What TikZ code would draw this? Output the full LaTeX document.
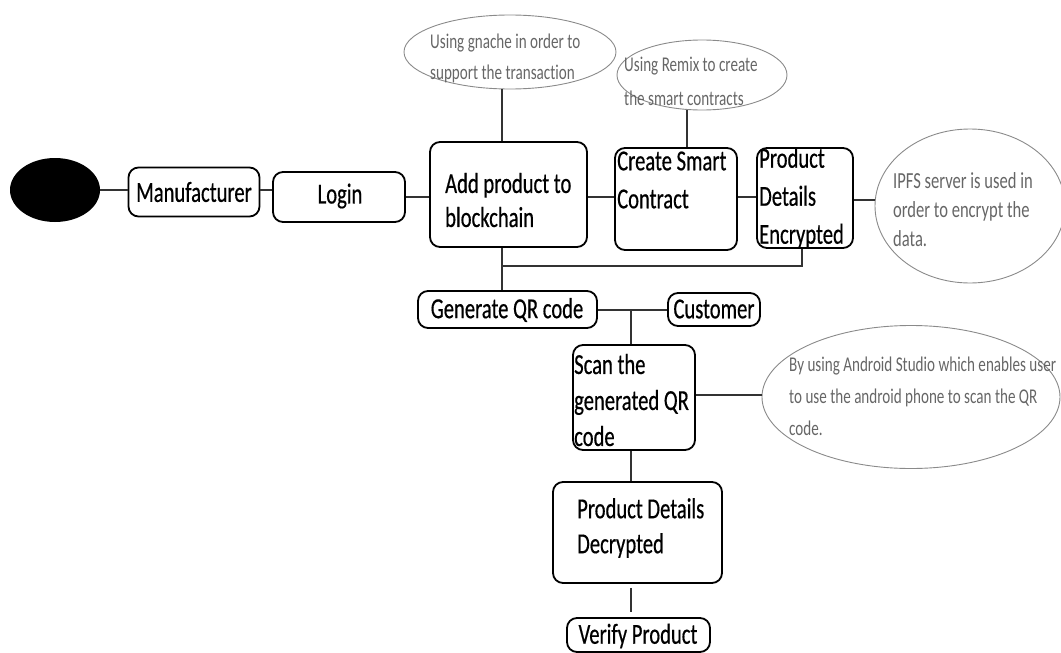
\documentclass[tikz,border=0pt]{standalone}
\usepackage{fontspec}
\newfontfamily\boxfont[FakeStretch=0.71,FakeBold=0.5,Ligatures=NoCommon]{Carlito}
\newfontfamily\notefont[FakeStretch=0.72,Ligatures=NoCommon]{Carlito}
\usetikzlibrary{shapes.geometric}
\definecolor{notegray}{HTML}{666666}
\definecolor{edgegray}{HTML}{8A8A8A}
\definecolor{linegray}{HTML}{333333}
\tikzset{
  box/.style={draw=black, line width=1.8pt, rounded corners=10pt, inner sep=0pt},
  boxtxt/.style={inner sep=0pt, align=left, text=black},
  note/.style={draw=edgegray, line width=0.9pt, ellipse, inner sep=0pt},
  notetxt/.style={inner sep=0pt, align=left, text=notegray},
  conn/.style={draw=linegray, line width=1.3pt},
}
\begin{document}
\begin{tikzpicture}[x=1pt,y=-1pt]
\useasboundingbox (0,0) rectangle (1061,653);
% start
\node[ellipse, fill=black, minimum width=90pt, minimum height=64pt, inner sep=0pt] (start) at (55,190) {};
% boxes
\node[box, minimum width=131pt, minimum height=49pt] (manu) at (194,192) {};
\node[box, minimum width=132pt, minimum height=50pt] (login) at (339,197) {};
\node[box, minimum width=157pt, minimum height=105pt] (add) at (508.5,194.5) {};
\node[box, minimum width=122pt, minimum height=102pt] (create) at (676,199) {};
\node[box, minimum width=96pt, minimum height=100pt] (pde) at (805,198) {};
\node[box, minimum width=179pt, minimum height=37pt] (gen) at (507.5,309.5) {};
\node[box, minimum width=92pt, minimum height=33pt] (cust) at (714,309.5) {};
\node[box, minimum width=122pt, minimum height=105pt] (scan) at (634,397.5) {};
\node[box, minimum width=169pt, minimum height=101pt] (pdd) at (637.5,532.5) {};
\node[box, minimum width=143pt, minimum height=34pt] (verify) at (638.5,635) {};
% notes
\node[note, minimum width=212pt, minimum height=74pt] (gnache) at (510,52) {};
\node[note, minimum width=170pt, minimum height=70pt] (remix) at (702,75) {};
\node[note, minimum width=190pt, minimum height=154pt] (ipfs) at (970,206) {};
\node[note, minimum width=298pt, minimum height=143pt] (android) at (911,397) {};
% texts
\begin{scope}[font={\boxfont\fontsize{29}{35}\selectfont}]
\node[boxtxt] (t-manu) at (194,192) {Manufacturer};
\node[boxtxt] (t-login) at (340,196) {Login};
\node[boxtxt, anchor=west, font={\boxfont\fontsize{29}{34}\selectfont}] (t-add) at (445,200) {Add product to\\blockchain};
\node[boxtxt, anchor=west, font={\boxfont\fontsize{29}{38}\selectfont}] (t-create) at (617,180) {Create Smart\\Contract};
\node[boxtxt, anchor=west, font={\boxfont\fontsize{29}{38}\selectfont}] (t-pde) at (759,198) {Product\\Details\\Encrypted};
\node[boxtxt] (t-gen) at (507,310) {Generate QR code};
\node[boxtxt] (t-cust) at (714,309) {Customer};
\node[boxtxt, anchor=west, font={\boxfont\fontsize{29}{36}\selectfont}] (t-scan) at (574,400) {Scan the\\generated QR\\code};
\node[boxtxt, anchor=west] (t-pdd) at (577,528) {Product Details\\Decrypted};
\node[boxtxt] (t-verify) at (638,636) {Verify Product};
\end{scope}
\begin{scope}[font={\notefont\fontsize{21}{31}\selectfont}]
\node[notetxt, anchor=west] (t-gnache) at (430,58) {Using gnache in order to\\support the transaction};
\node[notetxt, anchor=west, font={\notefont\fontsize{21}{34}\selectfont}] (t-remix) at (624,81) {Using Remix to create\\the smart contracts};
\node[notetxt, anchor=west, font={\notefont\fontsize{23}{29}\selectfont}] (t-ipfs) at (893,210) {IPFS server is used in\\order to encrypt the\\data.};
\node[notetxt, anchor=west, font={\notefont\fontsize{21}{32}\selectfont}] (t-android) at (789,396) {By using Android Studio which enables user\\to use the android phone to scan the QR\\code.};
\end{scope}
% connectors
\coordinate (jq) at (502,266);
\coordinate (jc) at (631,310);
\draw[conn] (start.east |- 0,190) -- (manu.west |- 0,190);
\draw[conn] (manu.east |- 0,190) -- (login.west |- 0,190);
\draw[conn] (login.east |- 0,197) -- (add.west |- 0,197);
\draw[conn] (add.east |- 0,197) -- (create.west |- 0,197);
\draw[conn] (create.east |- 0,197) -- (pde.west |- 0,197);
\draw[conn] (pde.east |- 0,200) -- (ipfs.west |- 0,200);
\draw[conn] (gnache.south -| 502,0) -- (add.north -| 502,0);
\draw[conn] (remix.south -| 687,0) -- (create.north -| 687,0);
\draw[conn] (add.south -| 502,0) -- (gen.north -| 502,0);
\draw[conn] (pde.south -| 802,0) |- (jq);
\draw[conn] (gen.east |- jc) -- (cust.west |- jc);
\draw[conn] (jc) -- (scan.north -| jc);
\draw[conn] (scan.east |- 0,395) -- (android.west |- 0,395);
\draw[conn] (scan.south -| 631,0) -- (pdd.north -| 631,0);
\draw[conn] ([yshift=-4pt]pdd.south -| 631,0) -- ([yshift=5pt]verify.north -| 631,0);
\end{tikzpicture}
\end{document}
